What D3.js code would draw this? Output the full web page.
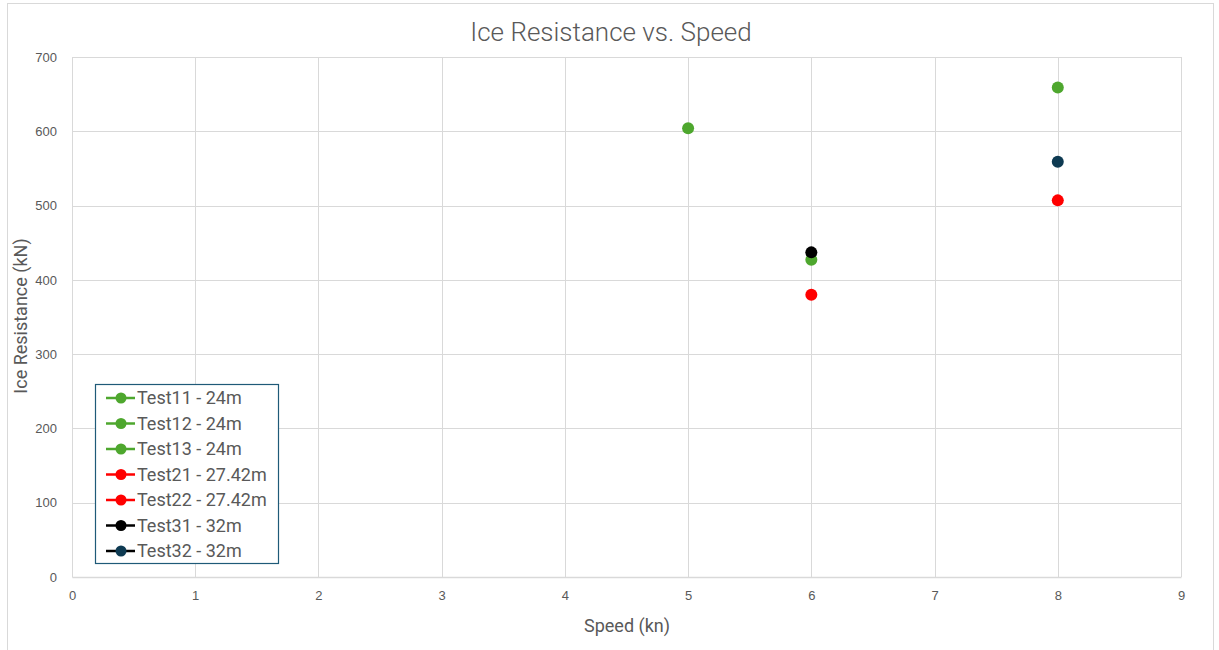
<!DOCTYPE html>
<html>
<head>
<meta charset="utf-8">
<script src="https://cdn.jsdelivr.net/npm/d3@7"></script>
<style>
  html, body { margin: 0; padding: 0; background: #fff; }
  svg { display: block; font-family: Roboto, "Noto Sans", sans-serif; }
</style>
</head>
<body>
<svg id="chart" width="1219" height="650"></svg>
<script>
// Series names, colours and measured points (speed in kn, resistance in kN)
const seriesNames = ["Test11 - 24m", "Test12 - 24m", "Test13 - 24m",
                     "Test21 - 27.42m", "Test22 - 27.42m",
                     "Test31 - 32m", "Test32 - 32m"];
const seriesColors = ["#4EA72E", "#4EA72E", "#4EA72E", "#FF0000", "#FF0000", "#000000", "#0E3A52"];
const seriesLineColors = ["#4EA72E", "#4EA72E", "#4EA72E", "#FF0000", "#FF0000", "#000000", "#000000"];
const seriesSpeed = [5, 6, 8, 6, 8, 6, 8];
const seriesResistance = [604, 427, 659, 380, 507, 437, 559];

const xTicks = [0, 1, 2, 3, 4, 5, 6, 7, 8, 9];
const yTicks = [0, 100, 200, 300, 400, 500, 600, 700];

const svg = d3.select("#chart");
const m = { left: 72, right: 1181, top: 57, bottom: 577 };

// chart frame
svg.append("rect").attr("x", 7.5).attr("y", 3.5).attr("width", 1206).attr("height", 660)
  .attr("fill", "#fff").attr("stroke", "#D9D9D9").attr("stroke-width", 1);

const x = d3.scaleLinear().domain([0, 9]).range([m.left, m.right]);
const y = d3.scaleLinear().domain([0, 700]).range([m.bottom, m.top]);

// gridlines
const grid = svg.append("g");
grid.selectAll("line.v").data(xTicks.slice(1)).join("line")
  .attr("x1", d => Math.round(x(d)) + 0.5).attr("x2", d => Math.round(x(d)) + 0.5)
  .attr("y1", m.top).attr("y2", m.bottom)
  .attr("stroke", "#D9D9D9").attr("stroke-width", 1);
grid.selectAll("line.h").data(yTicks.slice(1)).join("line")
  .attr("x1", m.left).attr("x2", m.right)
  .attr("y1", d => Math.round(y(d)) + 0.5).attr("y2", d => Math.round(y(d)) + 0.5)
  .attr("stroke", "#D9D9D9").attr("stroke-width", 1);

// axes
const xAxis = svg.append("g").attr("transform", `translate(0,${m.bottom})`)
  .call(d3.axisBottom(x).tickValues(xTicks).tickSize(0).tickPadding(14).tickFormat(d3.format("d")));
xAxis.select(".domain").attr("stroke", "#D9D9D9").attr("stroke-width", 1.5);
xAxis.selectAll("text").attr("fill", "#595959").attr("font-size", 13);

const yAxis = svg.append("g").attr("transform", `translate(${m.left},0)`)
  .call(d3.axisLeft(y).tickValues(yTicks).tickSize(0).tickPadding(15).tickFormat(d3.format("d")));
yAxis.select(".domain").attr("stroke", "#D9D9D9").attr("stroke-width", 1);
yAxis.selectAll("text").attr("fill", "#595959").attr("font-size", 13);

// titles
svg.append("text").attr("x", 611).attr("y", 41).attr("text-anchor", "middle")
  .attr("fill", "#595959").attr("font-size", 26).attr("font-weight", 300)
  .text("Ice Resistance vs. Speed");
svg.append("text").attr("x", 627).attr("y", 632).attr("text-anchor", "middle")
  .attr("fill", "#595959").attr("font-size", 18).text("Speed (kn)");
svg.append("text").attr("transform", "translate(27,316) rotate(-90)").attr("text-anchor", "middle")
  .attr("fill", "#595959").attr("font-size", 18).text("Ice Resistance (kN)");

// points
svg.append("g").selectAll("circle").data(seriesNames.map((n, i) => i)).join("circle")
  .attr("cx", i => x(seriesSpeed[i])).attr("cy", i => y(seriesResistance[i]))
  .attr("r", 6).attr("fill", i => seriesColors[i]);

// legend
const lg = svg.append("g");
lg.append("rect").attr("x", 95.5).attr("y", 384.5).attr("width", 183).attr("height", 179)
  .attr("fill", "#fff").attr("stroke", "#1F5A78").attr("stroke-width", 1.2);
const rows = lg.selectAll("g.row").data(seriesNames.map((n, i) => i)).join("g")
  .attr("transform", i => `translate(0,${398 + i * 25.5})`);
rows.append("line").attr("x1", 106).attr("x2", 135).attr("y1", 0).attr("y2", 0)
  .attr("stroke", i => seriesLineColors[i]).attr("stroke-width", 2.5);
rows.append("circle").attr("cx", 121).attr("cy", 0).attr("r", 5.5).attr("fill", i => seriesColors[i]);
rows.append("text").attr("x", 137).attr("y", 6).attr("fill", "#595959").attr("font-size", 18)
  .text(i => seriesNames[i]);
</script>
</body>
</html>
